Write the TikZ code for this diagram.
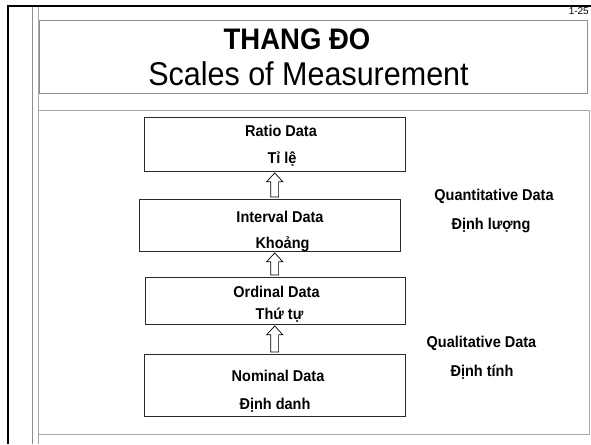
\documentclass[tikz,border=0pt]{standalone}
\usepackage{fontspec}
\setmainfont{Liberation Sans}
\usetikzlibrary{calc}
\definecolor{rulegray}{HTML}{8E8E8E}
\definecolor{lightrule}{HTML}{A8A8A8}
\definecolor{boxline}{HTML}{2A2A2A}

% slightly tall lettering
\newcommand\tall[1]{\scalebox{1}[1.08]{#1}}

% hollow block arrow from the top of #1 up to the bottom of #2
\newcommand\hollowup[2]{%
  \draw[blockarrow] let \p1=(axis |- #1.north), \p2=(axis |- #2.south) in
    (\x1-3.9pt,\y1+1.5pt) -- (\x1-3.9pt,\y2-10.2pt) -- (\x1-8pt,\y2-10.2pt)
    -- (\x1,\y2-1.5pt) -- (\x1+8pt,\y2-10.2pt) -- (\x1+3.9pt,\y2-10.2pt)
    -- (\x1+3.9pt,\y1+1.5pt) -- cycle;}

\begin{document}
\begin{tikzpicture}[x=1pt,y=-1pt,
  databox/.style={draw=boxline,line width=0.9pt,fill=white,inner sep=0pt},
  boxtext/.style={anchor=base,inner sep=0pt,font=\fontsize{14.5}{16}\selectfont\bfseries},
  sidetext/.style={anchor=base,inner sep=0pt,font=\fontsize{14.5}{16}\selectfont\bfseries},
  blockarrow/.style={draw=black,line width=0.7pt,fill=white,line join=miter}]
\useasboundingbox (0,0) rectangle (591,444);

% slide frame
\draw[line width=2.4pt] (8,444) -- (8,6) -- (591,6);
\draw[rulegray,line width=0.9pt] (32,7) -- (32,444);
\draw[lightrule,line width=0.9pt] (38.3,7) -- (38.3,444);
\draw[rulegray,line width=1pt] (39.3,20.7) rectangle (587,93.7);
\draw[lightrule,line width=1.3pt] (38.3,110.7) -- (589.7,110.7) -- (589.7,434.7) -- (38.3,434.7);

\node[anchor=base east,inner sep=0pt,font=\fontsize{10}{11}\selectfont] (pg) at (589,15) {1-25};

% title
\node[anchor=base,inner sep=0pt,font=\fontsize{27.5}{29}\selectfont\bfseries] (t1) at (297,49) {\tall{THANG ĐO}};
\node[anchor=base,inner sep=0pt,font=\fontsize{30.5}{32}\selectfont] (t2) at (308.5,85) {\tall{Scales of Measurement}};

% scale boxes
\coordinate (axis) at (274.7,0);
\node[databox,minimum width=261pt,minimum height=54pt] (ratio) at (274.5,144) {};
\node[databox,minimum width=261.4pt,minimum height=52pt] (interval) at (270,225) {};
\node[databox,minimum width=260pt,minimum height=47pt] (ordinal) at (275,300.5) {};
\node[databox,minimum width=261pt,minimum height=62pt] (nominal) at (274.5,385) {};

\hollowup{interval}{ratio}
\hollowup{ordinal}{interval}
\hollowup{nominal}{ordinal}

\node[boxtext] (r1) at (281,136.7) {\tall{Ratio Data}};
\node[boxtext] (r2) at (282,163.3) {\tall{Tỉ lệ}};
\node[boxtext] (i1) at (280,222.3) {\tall{Interval Data}};
\node[boxtext] (i2) at (282.5,248.3) {\tall{Khoảng}};
\node[boxtext] (o1) at (276.5,297.3) {\tall{Ordinal Data}};
\node[boxtext] (o2) at (279.5,319.3) {\tall{Thứ tự}};
\node[boxtext] (n1) at (278,381.7) {\tall{Nominal Data}};
\node[boxtext] (n2) at (275,409) {\tall{Định danh}};

% group labels
\node[sidetext] (q1) at (494,200.7) {\tall{Quantitative Data}};
\node[sidetext] (q2) at (491,229) {\tall{Định lượng}};
\node[sidetext] (l1) at (481.5,347.7) {\tall{Qualitative Data}};
\node[sidetext] (l2) at (482,376) {\tall{Định tính}};
\end{tikzpicture}
\end{document}
